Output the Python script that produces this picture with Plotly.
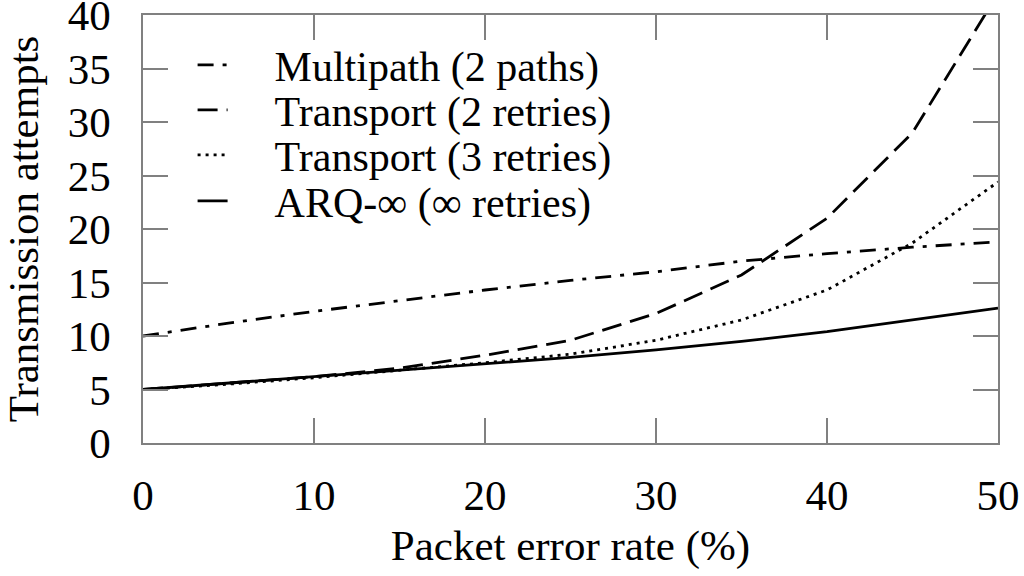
import plotly.graph_objects as go

per = [0, 5, 10, 15, 20, 25, 30, 35, 40, 45, 50]
multipath = [10.0, 11.2, 12.3, 13.3, 14.3, 15.2, 16.0, 17.0, 17.7, 18.3, 18.8]
transport2 = [5.0, 5.6, 6.2, 7.0, 8.2, 9.6, 12.1, 15.7, 21.0, 29.0, 42.0]
transport3 = [5.0, 5.5, 6.1, 6.8, 7.5, 8.3, 9.6, 11.5, 14.3, 18.7, 24.4]
arq = [5.0, 5.6, 6.2, 6.8, 7.4, 8.0, 8.7, 9.5, 10.4, 11.5, 12.6]

names = ["Multipath (2 paths)", "Transport (2 retries)", "Transport (3 retries)", "ARQ-∞ (∞ retries)"]
series = [multipath, transport2, transport3, arq]
dashes = ["16px,9px,4px,9px", "20px,9px", "3px,5px", "solid"]
legend_ids = ["legend", "legend2", "legend3", "legend4"]
legend_rows = [0.8832, 0.778, 0.6729, 0.5654]

fig = go.Figure()
for n, s, d, lg in zip(names, series, dashes, legend_ids):
    fig.add_trace(go.Scatter(x=per, y=s, name="\u00a0" * 4 + n, mode="lines", legend=lg,
                             line=dict(color="black", width=2.8, dash=d)))

font = dict(family="Liberation Serif, Times New Roman, serif", size=43, color="black")
legend_font = dict(family="Liberation Serif, Times New Roman, serif", size=42, color="black")
axis_common = dict(showline=True, linecolor="#808080", linewidth=1.5, mirror="ticks",
                   ticks="inside", ticklen=25, tickcolor="#808080", tickwidth=1.5,
                   showgrid=False, zeroline=False, tickfont=font, ticklabeloverflow="allow",
                   automargin=False)
fig.update_xaxes(range=[0, 50], tickvals=[0, 10, 20, 30, 40, 50], ticklabelstandoff=14,
                 title=dict(text="Packet error rate (%)", font=font, standoff=12), **axis_common)
fig.update_yaxes(range=[0, 40], tickvals=[0, 5, 10, 15, 20, 25, 30, 35, 40], ticklabelstandoff=22,
                 title=dict(text="Transmission attempts", font=font, standoff=18), **axis_common)

layout_legends = {}
for lg, yv in zip(legend_ids, legend_rows):
    layout_legends[lg] = dict(x=0.058, y=yv, xanchor="left", yanchor="middle",
                              bgcolor="rgba(0,0,0,0)", font=legend_font)
fig.update_layout(width=1024, height=576, margin=dict(l=143, r=26, t=15, b=133),
                  paper_bgcolor="white", plot_bgcolor="white", font=font, showlegend=True,
                  **layout_legends)
fig.write_html("out.html", config={"displayModeBar": False},
               post_script="document.body.style.margin='0';")
